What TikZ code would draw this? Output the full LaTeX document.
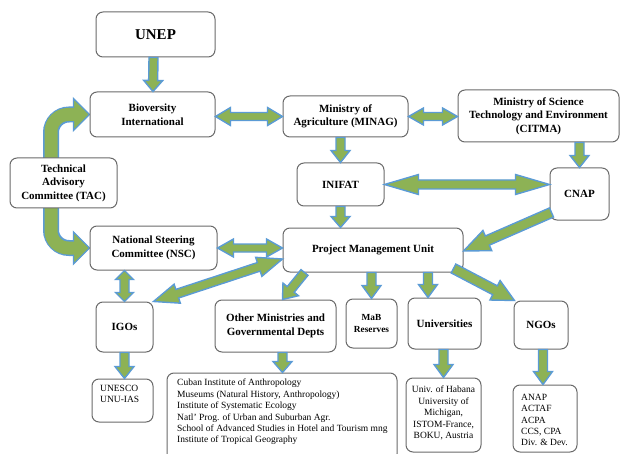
\documentclass[tikz,border=0pt]{standalone}
\usepackage{fontspec}
\setmainfont{Liberation Serif}
\usetikzlibrary{calc}
\definecolor{agreen}{HTML}{8DB255}
\definecolor{ablue}{HTML}{5B9BD5}
\definecolor{boxgray}{HTML}{6A6A6A}
\pgfdeclarelayer{bg}
\pgfsetlayers{bg,main}
\tikzset{
  blk/.style={draw=ablue, fill=agreen, line width=1.4pt, line join=miter},
  box/.style={draw=boxgray, line width=1pt, rounded corners=7pt, fill=white, inner sep=0pt, align=center,
    font=\bfseries\fontsize{11}{13.5}\selectfont},
  lst/.style={inner sep=0pt, font=\fontsize{9.5}{11.4}\selectfont}
}
% single-headed block arrow: from, to, shaft half width, head half width, head length
\newcommand{\sarrow}[5]{\path[blk] let \p1=(#1), \p2=(#2), \n1={atan2(\y2-\y1,\x2-\x1)}, \n2={veclen(\x2-\x1,\y2-\y1)} in
  [shift={(\p1)}, rotate=\n1] (0,-#3) -- ({\n2-#5},-#3) -- ({\n2-#5},-#4) -- (\n2,0) -- ({\n2-#5},#4) -- ({\n2-#5},#3) -- (0,#3) -- cycle;}
% double-headed block arrow
\newcommand{\darrow}[5]{\path[blk] let \p1=(#1), \p2=(#2), \n1={atan2(\y2-\y1,\x2-\x1)}, \n2={veclen(\x2-\x1,\y2-\y1)} in
  [shift={(\p1)}, rotate=\n1] (0,0) -- (#5,#4) -- (#5,#3) -- ({\n2-#5},#3) -- ({\n2-#5},#4) -- (\n2,0) -- ({\n2-#5},-#4) -- ({\n2-#5},-#3) -- (#5,-#3) -- (#5,-#4) -- cycle;}
\begin{document}
\begin{tikzpicture}[x=1pt,y=-1pt]
\useasboundingbox (0,0) rectangle (620,454);
% boxes
\node[box, minimum width=119, minimum height=45, font=\bfseries\fontsize{15}{17}\selectfont] (unep) at (155.5,34.5) {UNEP};
\node[box, minimum width=125, minimum height=45] (bio) at (152.5,114.5) {Bioversity\\International};
\node[box, minimum width=125, minimum height=41] (minag) at (345.5,116.5) {Ministry of\\Agriculture (MINAG)};
\node[box, minimum width=161, minimum height=52] (citma) at (538.5,116) {Ministry of Science\\Technology and Environment\\(CITMA)};
\node[box, minimum width=107, minimum height=50] (tac) at (63.5,183) {Technical\\Advisory\\Committee (TAC)};
\node[box, minimum width=87, minimum height=43] (inifat) at (340.5,184.5) {INIFAT};
\node[box, minimum width=59, minimum height=52] (cnap) at (579.5,194) {CNAP};
\node[box, minimum width=127, minimum height=44] (nsc) at (153.5,248) {National Steering\\Committee (NSC)};
\node[box, minimum width=180, minimum height=44] (pmu) at (373,250) {Project Management Unit};
\node[box, minimum width=57, minimum height=50] (igos) at (124.5,327) {IGOs};
\node[box, minimum width=121, minimum height=52] (other) at (275.5,326) {Other Ministries and\\Governmental Depts};
\node[box, minimum width=51, minimum height=49, font=\bfseries\fontsize{9.3}{12}\selectfont] (mab) at (371.5,323.5) {MaB\\Reserves};
\node[box, minimum width=73, minimum height=51] (univ) at (444.5,323.5) {Universities};
\node[box, minimum width=54, minimum height=48] (ngos) at (541,325) {NGOs};
\node[box, minimum width=61, minimum height=43] (unesco) at (122.5,400.5) {};
\node[box, minimum width=230, minimum height=88] (cuban) at (282,417) {};
\node[box, minimum width=75, minimum height=74] (habana) at (443.5,415) {};
\node[box, minimum width=64, minimum height=67] (anap) at (545,418.5) {};
% list texts
\node[lst, anchor=north west, align=left] (unescot) at (100,385) {UNESCO\\UNU-IAS};
\node[lst, anchor=north west, align=left] (cubant) at (177,379) {Cuban Institute of Anthropology\\Museums (Natural History, Anthropology)\\Institute of Systematic Ecology\\Natl' Prog. of Urban and Suburban Agr.\\School of Advanced Studies in Hotel and Tourism mng\\Institute of Tropical Geography};
\node[lst, align=center] (habanat) at (443.5,413) {Univ. of Habana\\University of\\Michigan,\\ISTOM-France,\\BOKU, Austria};
\node[lst, anchor=west, align=left] (anapt) at (521,420) {ANAP\\ACTAF\\ACPA\\CCS, CPA\\Div. \& Dev.};
% helper coordinates
\coordinate (tacx) at ($(tac.center)+(-12.5,0)$);
\coordinate (oth) at ($(other.south)+(7,0)$);
\coordinate (uni) at ($(univ.south)+(-1,0)$);
\coordinate (ngo) at ($(ngos.south)+(2,0)$);
% TAC curved arrow (behind TAC box)
\begin{pgfonlayer}{bg}
\draw[ablue, line width=16, rounded corners=18] ($(bio.west)+(-15,0)$) -- (tacx |- bio.west) -- (tacx |- nsc.west) -- ($(nsc.west)+(-15,0)$);
\path[blk] ($(bio.west)+(-16,-16)$) -- (bio.west) -- ($(bio.west)+(-16,16)$) -- cycle;
\path[blk] ($(nsc.west)+(-16,-16)$) -- (nsc.west) -- ($(nsc.west)+(-16,16)$) -- cycle;
\draw[agreen, line width=13, rounded corners=17] ($(bio.west)+(-14.5,0)$) -- (tacx |- bio.west) -- (tacx |- nsc.west) -- ($(nsc.west)+(-14.5,0)$);
\end{pgfonlayer}
% straight arrows
\sarrow{$(unep.south)+(-2,0)$}{$(bio.north)+(0.5,0)$}{4.5}{9.5}{11}
\darrow{bio.east |- minag.west}{minag.west}{4}{9}{15}
\darrow{minag.east}{citma.west |- minag.east}{4}{8.5}{15}
\sarrow{inifat.north |- minag.south}{inifat.north}{4.5}{9.5}{12}
\sarrow{cnap.north |- citma.south}{cnap.north}{4.5}{9.5}{12}
\darrow{inifat.east}{cnap.west |- inifat.east}{4.5}{10}{34}
\sarrow{inifat.south}{inifat.south |- pmu.north}{4.5}{9.5}{11}
\sarrow{$(cnap.south west)+(2,-8)$}{$(pmu.east)+(0,1)$}{5}{11}{26}
\darrow{nsc.east}{pmu.west |- nsc.east}{4}{9}{16}
\darrow{igos.north east}{$(pmu.west)+(0,9)$}{4.5}{10}{25}
\darrow{igos.north |- nsc.south}{igos.north}{4.5}{9}{9}
\sarrow{$(pmu.south west)+(22,0)$}{$(other.north)+(7,0)$}{4.5}{10}{13}
\sarrow{mab.north |- pmu.south}{mab.north}{4.5}{9.5}{13}
\sarrow{$(pmu.south)+(55,0)$}{$(univ.north)+(-16.5,0)$}{4.5}{9.5}{13}
\sarrow{$(pmu.south east)+(-10,-4)$}{$(ngos.north west)+(1,0)$}{5}{11}{22}
\sarrow{igos.south}{igos.south |- unesco.north}{4.5}{9.5}{12}
\sarrow{oth}{oth |- cuban.north}{4.5}{9.5}{11}
\sarrow{uni}{uni |- habana.north}{4.5}{9.5}{13}
\sarrow{ngo}{ngo |- anap.north}{4.5}{9.5}{13}
\end{tikzpicture}
\end{document}
